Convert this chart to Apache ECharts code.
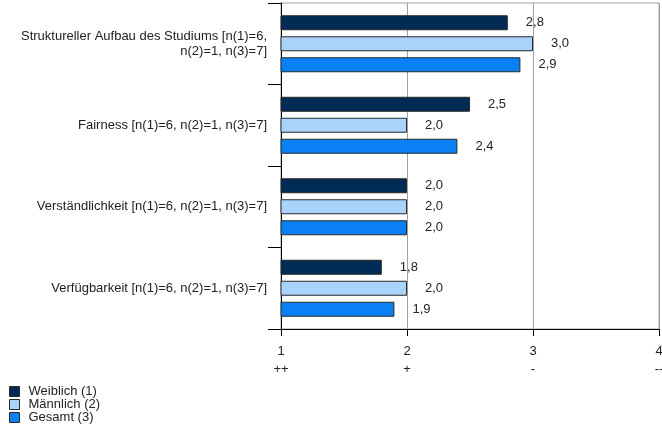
<!DOCTYPE html>
<html><head><meta charset="utf-8">
<script src="https://cdn.jsdelivr.net/npm/echarts@6/dist/echarts.min.js"></script>
<style>html,body{margin:0;padding:0;background:#fff}#c{width:662px;height:436px}</style>
</head><body><div id="c"></div>
<script>
const categories = [
  "Struktureller Aufbau des Studiums [n(1)=6,\nn(2)=1, n(3)=7]",
  "Fairness [n(1)=6, n(2)=1, n(3)=7]",
  "Verständlichkeit [n(1)=6, n(2)=1, n(3)=7]",
  "Verfügbarkeit [n(1)=6, n(2)=1, n(3)=7]"
];
const seriesNames = ["Weiblich (1)", "Männlich (2)", "Gesamt (3)"];
const weiblich = [2.8, 2.5, 2.0, 1.8];
const maennlich = [3.0, 2.0, 2.0, 2.0];
const gesamt = [2.9, 2.4, 2.0, 1.9];
const tickValues = [1, 2, 3, 4];
const tickSymbols = ["++", "+", "-", "--"];
const colors = ["#002b55", "#a9d3fb", "#0a80f5"];

const font = "Liberation Sans, Arial, sans-serif";
const fs = 13;
const chart = echarts.init(document.getElementById('c'));
function mk(name, data, color) {
  return {
    name: name, type: 'bar', data: data,
    barWidth: 15, barGap: '40%',
    itemStyle: { color: color, borderColor: '#2a2a2a', borderWidth: 1 },
    label: { show: true, position: 'right', distance: 18, fontFamily: font, fontSize: fs, color: '#222',
      formatter: p => p.value.toFixed(1).replace('.', ',') },
    animation: false
  };
}
chart.setOption({
  animation: false,
  grid: { left: 281, right: 3, top: 3, bottom: 107, containLabel: false, outerBoundsMode: 'none',
    show: true, borderColor: '#a0a0a0', borderWidth: 1, backgroundColor: 'transparent' },
  legend: {
    orient: 'vertical', left: 9, top: 385, padding: 0, itemWidth: 10, itemHeight: 10, itemGap: 0,
    icon: 'rect', textStyle: { fontFamily: font, fontSize: fs, color: '#222', lineHeight: 13, padding: [0, 0, 0, 4] },
    data: seriesNames.map((n, i) => ({ name: n, itemStyle: { borderColor: '#2a2a2a', borderWidth: 1 } }))
  },
  xAxis: {
    type: 'value', min: 1, max: 4, interval: 1,
    axisLine: { show: true, lineStyle: { color: '#000', width: 1 } },
    axisTick: { show: true, length: 7, lineStyle: { color: '#000' } },
    splitLine: { show: true, lineStyle: { color: '#a0a0a0', width: 1 } },
    axisLabel: { fontFamily: font, fontSize: fs, color: '#222', lineHeight: 18, margin: 13,
      formatter: v => { const i = tickValues.indexOf(v); return i >= 0 ? v + '\n' + tickSymbols[i] : ''; } }
  },
  yAxis: {
    type: 'category', data: categories, inverse: true,
    axisLine: { show: true, lineStyle: { color: '#000', width: 1 } },
    axisTick: { show: true, length: 13, lineStyle: { color: '#000' } },
    axisLabel: { fontFamily: font, fontSize: fs, color: '#222', margin: 14, lineHeight: 15, align: 'right' }
  },
  series: [mk(seriesNames[0], weiblich, colors[0]), mk(seriesNames[1], maennlich, colors[1]), mk(seriesNames[2], gesamt, colors[2])]
});
</script></body></html>
